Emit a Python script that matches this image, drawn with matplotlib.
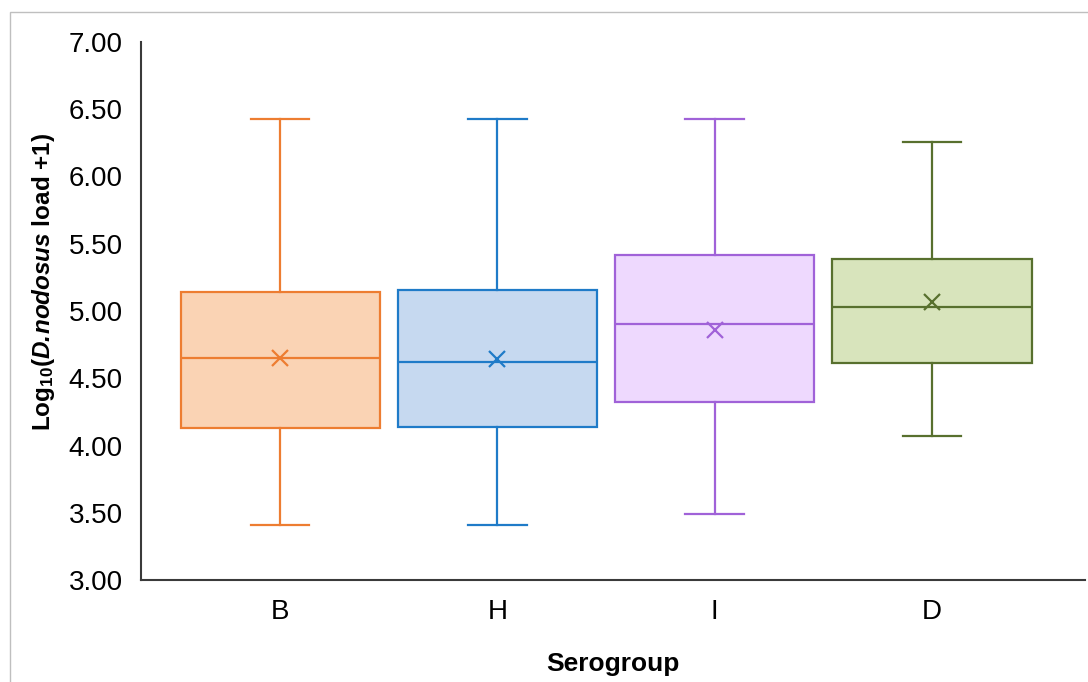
import numpy as np
import matplotlib
matplotlib.use('Agg')
import matplotlib.pyplot as plt
from matplotlib.patches import Rectangle

plt.rcParams['font.family'] = ['Liberation Sans', 'DejaVu Sans']
plt.rcParams['mathtext.fontset'] = 'custom'
plt.rcParams['mathtext.rm'] = 'Liberation Sans'
plt.rcParams['mathtext.bf'] = 'Liberation Sans:bold'
plt.rcParams['mathtext.it'] = 'Liberation Sans:italic'
plt.rcParams['mathtext.bfit'] = 'Liberation Sans:bold:italic'

# summary statistics per serogroup
groups = ['B', 'H', 'I', 'D']
whislo = [3.41, 3.41, 3.49, 4.07]
q1 = [4.13, 4.14, 4.32, 4.61]
med = [4.65, 4.62, 4.90, 5.03]
q3 = [5.14, 5.155, 5.42, 5.39]
whishi = [6.43, 6.43, 6.43, 6.26]
means = [4.65, 4.64, 4.86, 5.065]

edge_colors = ['#ED7D31', '#1F7BC8', '#A062D8', '#58702E']
fill_colors = ['#FAD3B4', '#C6D9F0', '#EED9FE', '#D8E4BC']

stats = []
for i, g in enumerate(groups):
    stats.append({'label': g, 'whislo': whislo[i], 'q1': q1[i], 'med': med[i],
                  'q3': q3[i], 'whishi': whishi[i], 'mean': means[i], 'fliers': []})

fig = plt.figure(figsize=(10.88, 6.82), dpi=100)
ax = fig.add_axes([141/1088, 1-580/682, 944/1088, 538/682])

# thin grey frame around the chart area
fig.patches.append(Rectangle((10/1088, -0.1), 1.2, 1 - 11.5/682 + 0.1, transform=fig.transFigure,
                             fill=False, edgecolor='#BFBFBF', linewidth=1.0, zorder=0))

positions = np.arange(1, len(groups) + 1)
for i in range(len(groups)):
    c = edge_colors[i]
    ax.bxp([stats[i]], positions=[positions[i]], widths=0.916, capwidths=0.27,
           patch_artist=True, showmeans=True, showfliers=False,
           boxprops=dict(facecolor=fill_colors[i], edgecolor=c, linewidth=1.6),
           whiskerprops=dict(color=c, linewidth=1.6),
           capprops=dict(color=c, linewidth=1.6),
           medianprops=dict(color=c, linewidth=1.6),
           meanprops=dict(marker='x', markeredgecolor=c, markersize=11, markeredgewidth=1.6))

ax.set_xlim(0.36, 4.704)
ax.set_ylim(3.0, 7.0)
ax.set_yticks(np.arange(3.0, 7.01, 0.5))
ax.set_yticklabels(['%.2f' % v for v in np.arange(3.0, 7.01, 0.5)])
ax.set_xticks(positions)
ax.set_xticklabels(groups)
ax.tick_params(axis='both', length=0, labelsize=20, colors='#000000')
ax.tick_params(axis='y', pad=13)
ax.tick_params(axis='x', pad=14)

for s in ['top', 'right']:
    ax.spines[s].set_visible(False)
for s in ['left', 'bottom']:
    ax.spines[s].set_color('#3A3A3A')
    ax.spines[s].set_linewidth(1.5)

ax.set_xlabel('Serogroup', fontsize=19, fontweight='bold')
ax.xaxis.set_label_coords(0.5, -0.134)
# \! cancels the gap mathtext puts after the period
ax.set_ylabel(r'$\mathbf{Log}_{\mathbf{10}}\mathbf{(}\mathbfit{D.\!nodosus}\mathbf{\ load\ {+}1)}$', fontsize=17.5)
ax.yaxis.set_label_coords(-0.089, 0.554)

fig.savefig('out.png', dpi=100)
